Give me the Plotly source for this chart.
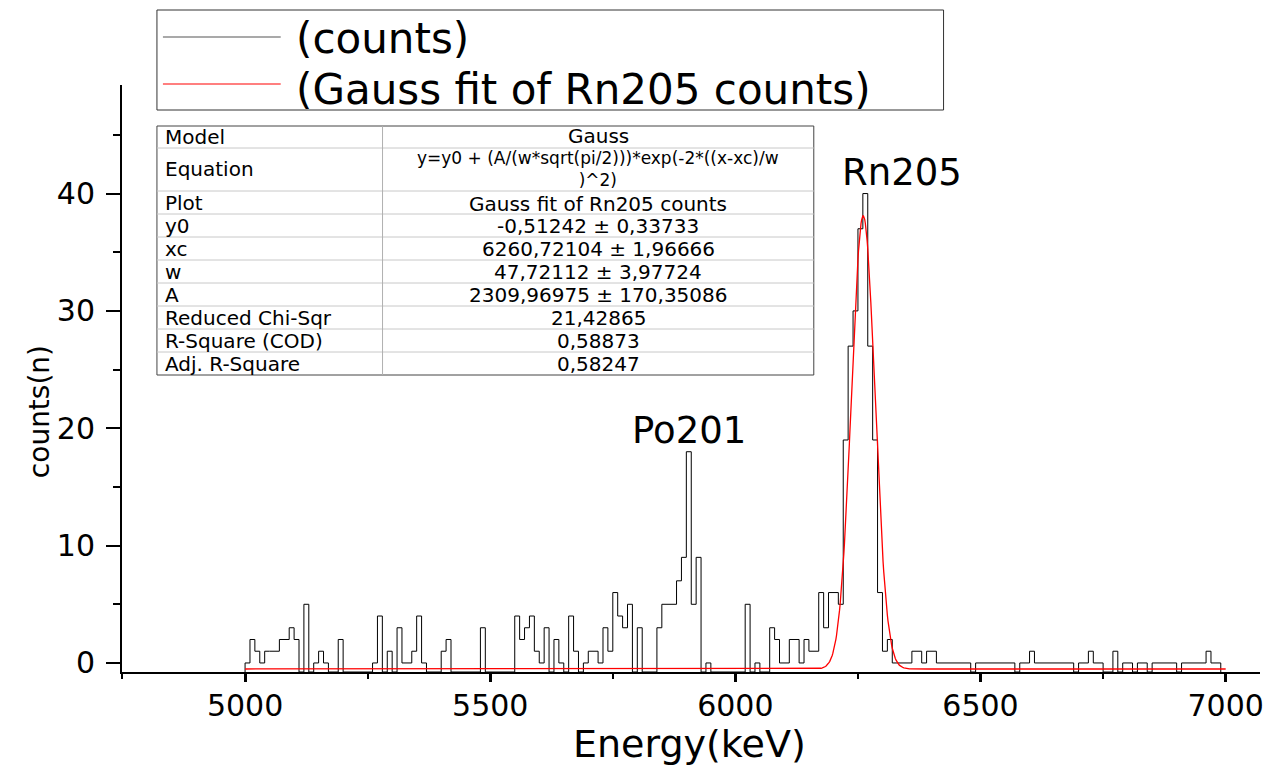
import numpy as np
import plotly.graph_objects as go

# ---- Spectrum: 10 keV channels from 5000 keV; None = empty channel ----
bin_start = 5000
bin_width = 10
counts = [
    0, 2, 1, 0, 1, 1, 1, 2, 2, 3,            # 5000-5090
    2, None, 5, None, 0, 1, 0, None, None, 2,  # 5100-5190
    None, None, None, None, None, None, 0, 4, None, 1,  # 5200-5290
    None, 3, 0, 0, 1, 4, 0, None, None, None,  # 5300-5390
    1, 2, None, None, None, None, None, None, 3, None,  # 5400-5490
    None, None, None, None, None, 4, 2, 3, 4, 1,  # 5500-5590
    0, 3, None, 2, 0, None, 4, 1, None, 0,     # 5600-5690
    1, 1, 0, 3, 1, 6, 4, 3, 5, None,           # 5700-5790
    3, None, None, None, 3, 5, 5, 5, 7, 9,     # 5800-5890
    18, 5, 9, None, 0, None, None, None, None, None,  # 5900-5990
    None, None, 5, None, 0, None, None, 3, 2, 0,  # 6000-6090
    0, 2, 2, 0, 2, 1, 1, 6, 3, 6,              # 6100-6190
    6, 5, 19, 27, 30, 37, 40, 27, 19, 6,       # 6200-6290
    1, 2, 0, 0, 0, 0, 1, 1, 0, 1,              # 6300-6390
    1, 0, 0, 0, 0, 0, 0, 0, None, 0,           # 6400-6490
    0, 0, 0, 0, 0, 0, 0, None, 0, 0,           # 6500-6590
    1, 0, 0, 0, 0, 0, 0, 0, 0, None,           # 6600-6690
    0, 0, 1, 0, 0, None, None, 1, None, 0,     # 6700-6790
    0, None, 0, 0, None, 0, 0, 0, 0, 0,        # 6800-6890
    None, 0, 0, 0, 0, 0, 1, 0, 0,              # 6900-6980
]

# ---- Gauss fit of the Rn205 peak ----
fit_y0 = -0.51242
fit_xc = 6260.72104
fit_w = 47.72112
fit_A = 2309.96975

# ---- Fit report ----
table_labels = ["Model", "Equation", "Plot", "y0", "xc", "w", "A",
                "Reduced Chi-Sqr", "R-Square (COD)", "Adj. R-Square"]
table_values = ["Gauss",
                "y=y0 + (A/(w*sqrt(pi/2)))*exp(-2*((x-xc)/w<br>)^2)",
                "Gauss fit of Rn205 counts",
                "-0,51242 ± 0,33733",
                "6260,72104 ± 1,96666",
                "47,72112 ± 3,97724",
                "2309,96975 ± 170,35086",
                "21,42865",
                "0,58873",
                "0,58247"]

legend_names = ["(counts)", "(Gauss fit of Rn205 counts)"]
peak_names = ["Po201", "Rn205"]

# ---- page geometry (pixels) ----
W, H = 1276, 767
ML, MR, MT, MB = 122, 14, 85, 95
X_RANGE = [4749, 7070]
Y_RANGE = [-0.77, 49.25]
FONT = "DejaVu Sans"


def px(x):
    """page pixel column -> paper x"""
    return (x - ML) / (W - ML - MR)


def py(y):
    """page pixel row -> paper y"""
    return (H - MB - y) / (H - MT - MB)


# step outline of the histogram; empty channels fall to the axis floor
y_floor = Y_RANGE[0]
step_x = [bin_start]
step_y = [y_floor]
for k, c in enumerate(counts):
    left = bin_start + k * bin_width
    v = y_floor if c is None else c
    step_x += [left, left + bin_width]
    step_y += [v, v]
step_x.append(bin_start + len(counts) * bin_width)
step_y.append(y_floor)

# fitted curve
fx = np.linspace(5000, 7000, 1601)
fy = fit_y0 + fit_A / (fit_w * np.sqrt(np.pi / 2)) * np.exp(-2 * ((fx - fit_xc) / fit_w) ** 2)

fig = go.Figure()
fig.add_trace(go.Scatter(x=step_x, y=step_y, mode="lines", name=legend_names[0],
                         line=dict(color="black", width=1), showlegend=False))
fig.add_trace(go.Scatter(x=fx, y=fy, mode="lines", name=legend_names[1],
                         line=dict(color="#ff0000", width=1.3), showlegend=False))

shapes = []
annotations = []

# legend box
shapes.append(dict(type="rect", xref="paper", yref="paper",
                   x0=px(157), x1=px(945), y0=py(110), y1=py(10),
                   line=dict(color="#333333", width=1), fillcolor="white"))
for i, (name, col) in enumerate(zip(legend_names, ["#555555", "#ff0000"])):
    ly = [37, 84][i]
    ty = [39, 89][i]
    shapes.append(dict(type="line", xref="paper", yref="paper",
                       x0=px(163), x1=px(281), y0=py(ly), y1=py(ly),
                       line=dict(color=col, width=1.2)))
    annotations.append(dict(xref="paper", yref="paper", x=px(295), y=py(ty),
                            xanchor="left", yanchor="middle", showarrow=False, borderpad=0,
                            text=name, font=dict(family=FONT, size=42, color="black")))

# fit report table
tx0, tx1, tsplit = 157, 815, 383
rows = [126, 148, 191, 214, 237, 260, 283, 306, 329, 352, 375]
shapes.append(dict(type="rect", xref="paper", yref="paper",
                   x0=px(tx0), x1=px(tx1), y0=py(rows[-1]), y1=py(rows[0]),
                   line=dict(color="#444444", width=1), fillcolor="white", layer="above"))
for r in rows[1:-1]:
    shapes.append(dict(type="line", xref="paper", yref="paper",
                       x0=px(tx0), x1=px(tx1), y0=py(r), y1=py(r),
                       line=dict(color="#c8c8c8", width=1), layer="above"))
shapes.append(dict(type="line", xref="paper", yref="paper",
                   x0=px(tsplit), x1=px(tsplit), y0=py(rows[-1]), y1=py(rows[0]),
                   line=dict(color="#b0b0b0", width=1), layer="above"))
for i, (lab, val) in enumerate(zip(table_labels, table_values)):
    top, bot = rows[i], rows[i + 1]
    cy = (top + bot) / 2
    annotations.append(dict(xref="paper", yref="paper", x=px(164), y=py(cy),
                            xanchor="left", yanchor="middle", showarrow=False,
                            borderpad=0, text=lab,
                            font=dict(family=FONT, size=20, color="black")))
    # keep the two-line equation clear of its neighbouring rows
    if "<br>" in val:
        size, vy = 17, cy
    else:
        size, vy = 20, cy + {0: -1, 2: 1}.get(i, 0)
    annotations.append(dict(xref="paper", yref="paper", x=px((tsplit + tx1) / 2), y=py(vy),
                            xanchor="center", yanchor="middle", showarrow=False,
                            borderpad=0, text=val,
                            font=dict(family=FONT, size=size, color="black")))

# peak labels
annotations.append(dict(x=5905, y=19.8, xref="x", yref="y", text=peak_names[0],
                        showarrow=False, font=dict(family=FONT, size=37, color="black")))
annotations.append(dict(x=6340, y=41.8, xref="x", yref="y", text=peak_names[1],
                        showarrow=False, font=dict(family=FONT, size=37, color="black")))

# axis titles
annotations.append(dict(xref="paper", yref="paper", x=px(690), y=py(744),
                        xanchor="center", yanchor="middle", showarrow=False,
                        text="Energy(keV)", font=dict(family=FONT, size=38, color="black")))
annotations.append(dict(xref="paper", yref="paper", x=px(39), y=py(412),
                        xanchor="center", yanchor="middle", showarrow=False, textangle=-90,
                        text="counts(n)", font=dict(family=FONT, size=28, color="black")))

fig.update_layout(
    width=W, height=H,
    margin=dict(l=ML, r=MR, t=MT, b=MB),
    paper_bgcolor="white", plot_bgcolor="white",
    font=dict(family=FONT, color="black"),
    shapes=shapes, annotations=annotations,
    xaxis=dict(range=X_RANGE, showgrid=False, zeroline=False,
               showline=True, linecolor="black", linewidth=2,
               tick0=5000, dtick=500, ticks="outside", ticklen=8, tickwidth=2.5,
               tickcolor="black", ticklabelstandoff=-2,
               tickfont=dict(family=FONT, size=30, color="black"),
               minor=dict(tick0=5000, dtick=250, ticks="outside", ticklen=5,
                          tickwidth=2, tickcolor="black")),
    yaxis=dict(range=Y_RANGE, showgrid=False, zeroline=False,
               showline=True, linecolor="black", linewidth=2,
               tick0=0, dtick=10, ticks="outside", ticklen=14, tickwidth=2,
               tickcolor="black", ticklabelstandoff=5,
               tickfont=dict(family=FONT, size=30, color="black"),
               minor=dict(tick0=0, dtick=5, ticks="outside", ticklen=7,
                          tickwidth=2, tickcolor="black")),
)

fig.write_html("out.html")
